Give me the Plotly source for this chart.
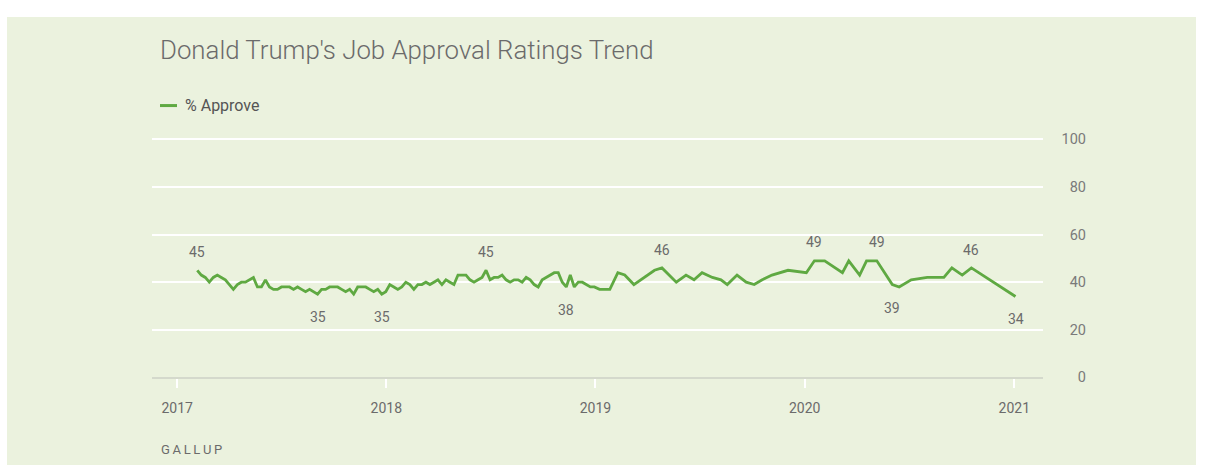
import plotly.graph_objects as go

# Weekly Gallup readings, 2017
dates_2017 = [
    "2017-02-05", "2017-02-12", "2017-02-19", "2017-02-26",
    "2017-03-05", "2017-03-12", "2017-03-19", "2017-03-26",
    "2017-04-02", "2017-04-09", "2017-04-16", "2017-04-23", "2017-04-30",
    "2017-05-07", "2017-05-14", "2017-05-21", "2017-05-28",
    "2017-06-04", "2017-06-11", "2017-06-18", "2017-06-25",
    "2017-07-02", "2017-07-09", "2017-07-16", "2017-07-23", "2017-07-30",
    "2017-08-06", "2017-08-13", "2017-08-20", "2017-08-27",
    "2017-09-03", "2017-09-10", "2017-09-17", "2017-09-24",
    "2017-10-01", "2017-10-08", "2017-10-15", "2017-10-22", "2017-10-29",
    "2017-11-05", "2017-11-12", "2017-11-19", "2017-11-26",
    "2017-12-03", "2017-12-10", "2017-12-17", "2017-12-24", "2017-12-31",
]
approve_2017 = [
    45, 43, 42, 40, 42, 43, 42, 41, 39, 37,
    39, 40, 40, 41, 42, 38, 38, 41, 38, 37,
    37, 38, 38, 38, 37, 38, 37, 36, 37, 36,
    35, 37, 37, 38, 38, 38, 37, 36, 37, 35,
    38, 38, 38, 37, 36, 37, 35, 36,
]

# Weekly Gallup readings, 2018
dates_2018 = [
    "2018-01-07", "2018-01-14", "2018-01-21", "2018-01-28",
    "2018-02-04", "2018-02-11", "2018-02-18", "2018-02-25",
    "2018-03-04", "2018-03-11", "2018-03-18", "2018-03-25",
    "2018-04-01", "2018-04-08", "2018-04-15", "2018-04-22", "2018-04-29",
    "2018-05-06", "2018-05-13", "2018-05-20", "2018-05-27",
    "2018-06-03", "2018-06-10", "2018-06-17", "2018-06-24",
    "2018-07-01", "2018-07-08", "2018-07-15", "2018-07-22", "2018-07-29",
    "2018-08-05", "2018-08-12", "2018-08-19", "2018-08-26",
    "2018-09-02", "2018-09-09", "2018-09-16", "2018-09-23", "2018-09-30",
    "2018-10-07", "2018-10-14", "2018-10-21", "2018-10-28",
    "2018-11-04", "2018-11-11", "2018-11-18", "2018-11-25",
    "2018-12-02", "2018-12-09", "2018-12-16", "2018-12-23", "2018-12-30",
]
approve_2018 = [
    39, 38, 37, 38, 40, 39, 37, 39, 39, 40,
    39, 40, 41, 39, 41, 40, 39, 43, 43, 43,
    41, 40, 41, 42, 45, 41, 42, 42, 43, 41,
    40, 41, 41, 40, 42, 41, 39, 38, 41, 42,
    43, 44, 44, 40, 38, 43, 38, 40, 40, 39,
    38, 38,
]

# Multi-week polls, 2019 to January 2021
dates_2019_2021 = [
    "2019-01-08", "2019-01-26", "2019-02-09", "2019-02-21", "2019-03-09",
    "2019-04-14", "2019-04-27", "2019-05-22", "2019-06-08", "2019-06-22",
    "2019-07-06", "2019-07-24", "2019-08-08", "2019-08-19", "2019-09-05",
    "2019-09-21", "2019-10-05", "2019-10-19", "2019-11-05", "2019-12-03",
    "2020-01-04", "2020-01-18", "2020-02-05", "2020-03-07", "2020-03-18",
    "2020-04-06", "2020-04-18", "2020-05-06", "2020-06-02", "2020-06-14",
    "2020-07-05", "2020-08-02", "2020-08-31", "2020-09-14", "2020-10-02",
    "2020-10-18", "2021-01-03",
]
approve_2019_2021 = [
    37, 37, 44, 43, 39,
    45, 46, 40, 43, 41,
    44, 42, 41, 39, 43,
    40, 39, 41, 43, 45,
    44, 49, 49, 44, 49,
    43, 49, 49, 39, 38,
    41, 42, 42, 46, 43,
    46, 34,
]

# Points that carry a value label, and on which side of the line
labelled_dates = [
    "2017-02-05", "2017-09-03", "2017-12-24", "2018-06-24", "2018-11-11",
    "2019-04-27", "2020-01-18", "2020-05-06", "2020-06-02", "2020-10-18",
    "2021-01-03",
]
label_sides = [
    "above", "below", "below", "above", "below",
    "above", "above", "above", "below", "above",
    "below",
]

y_ticks = [0, 20, 40, 60, 80, 100]
x_ticks = ["2017-01-01", "2018-01-01", "2019-01-01", "2020-01-01", "2021-01-01"]
x_tick_text = ["2017", "2018", "2019", "2020", "2021"]

dates = dates_2017 + dates_2018 + dates_2019_2021
approve = approve_2017 + approve_2018 + approve_2019_2021
value_by_date = dict(zip(dates, approve))

W, H = 1206, 475
# vertical layout is planned on a 465 px tall card
S = H / 465
GREEN = "#5fa942"
TEXT = "#6b6b6b"
PANEL = "#ebf2de"
FONT = "Roboto"

# plot area on the card: y=0 at 376 px, y=100 at 137 px
Y_MAX = 102
PX_PER_UNIT = (376 - 137) / 100
Y_TOP_PX = 376 - Y_MAX * PX_PER_UNIT


def px_x(p):
    return p / W


def px_y(p):
    return 1 - p * S / H


fig = go.Figure()
fig.add_trace(go.Scatter(
    x=dates, y=approve, mode="lines", name="% Approve",
    line=dict(color=GREEN, width=2.8),
    hoverinfo="x+y", showlegend=False,
))

annotations = []
for d, side in zip(labelled_dates, label_sides):
    annotations.append(dict(
        x=d, y=value_by_date[d], xref="x", yref="y",
        text=str(value_by_date[d]), showarrow=False,
        font=dict(family=FONT, size=14, color=TEXT),
        yshift=(18 if side == "above" else -22.5) * S,
    ))

# Title, legend entry and source line
annotations += [
    dict(x=px_x(158), y=px_y(47.5), xref="paper", yref="paper",
         xanchor="left", yanchor="middle", showarrow=False,
         text="Donald Trump's Job Approval Ratings Trend",
         font=dict(family=FONT, size=25.8, color=TEXT, weight=300)),
    dict(x=px_x(183), y=px_y(102.5), xref="paper", yref="paper",
         xanchor="left", yanchor="middle", showarrow=False,
         text="% Approve",
         font=dict(family=FONT, size=16, color="#555555")),
    dict(x=px_x(159), y=px_y(448), xref="paper", yref="paper",
         xanchor="left", yanchor="middle", showarrow=False,
         text="G A L L U P".replace(" ", "\u2009"),
         font=dict(family=FONT, size=13, color=TEXT)),
]

shapes = [
    # pale green panel
    dict(type="rect", xref="paper", yref="paper", layer="below",
         x0=px_x(7), x1=px_x(1196), y0=0, y1=px_y(14),
         fillcolor=PANEL, line=dict(width=0)),
    # legend swatch
    dict(type="line", xref="paper", yref="paper",
         x0=px_x(160), x1=px_x(177), y0=px_y(103), y1=px_y(103),
         line=dict(color=GREEN, width=3)),
]

fig.update_layout(
    width=W, height=H,
    autosize=False,
    margin=dict(l=0, r=0, t=0, b=0),
    paper_bgcolor="white",
    plot_bgcolor="rgba(0,0,0,0)",
    showlegend=False,
    annotations=annotations,
    shapes=shapes,
    font=dict(family=FONT, color=TEXT),
    xaxis=dict(
        type="date",
        domain=[px_x(152), px_x(1043)],
        range=["2016-11-18", "2021-02-20"],
        tickvals=x_ticks, ticktext=x_tick_text,
        showgrid=False, zeroline=False,
        showline=True, linecolor="#d4d9cc", linewidth=2,
        ticks="outside", tickcolor="white", ticklen=9, tickwidth=2,
        ticklabelstandoff=8,
        tickfont=dict(family=FONT, size=14, color=TEXT),
    ),
    yaxis=dict(
        domain=[px_y(376), px_y(Y_TOP_PX)],
        range=[0, Y_MAX],
        tickvals=y_ticks,
        anchor="free", position=px_x(1086), side="left",
        showgrid=True, gridcolor="white", gridwidth=2,
        zeroline=False, showline=False, ticks="",
        tickfont=dict(family=FONT, size=14.5, color="#7a7a7a"),
    ),
)

fig.write_html("out.html", config={"responsive": False})
